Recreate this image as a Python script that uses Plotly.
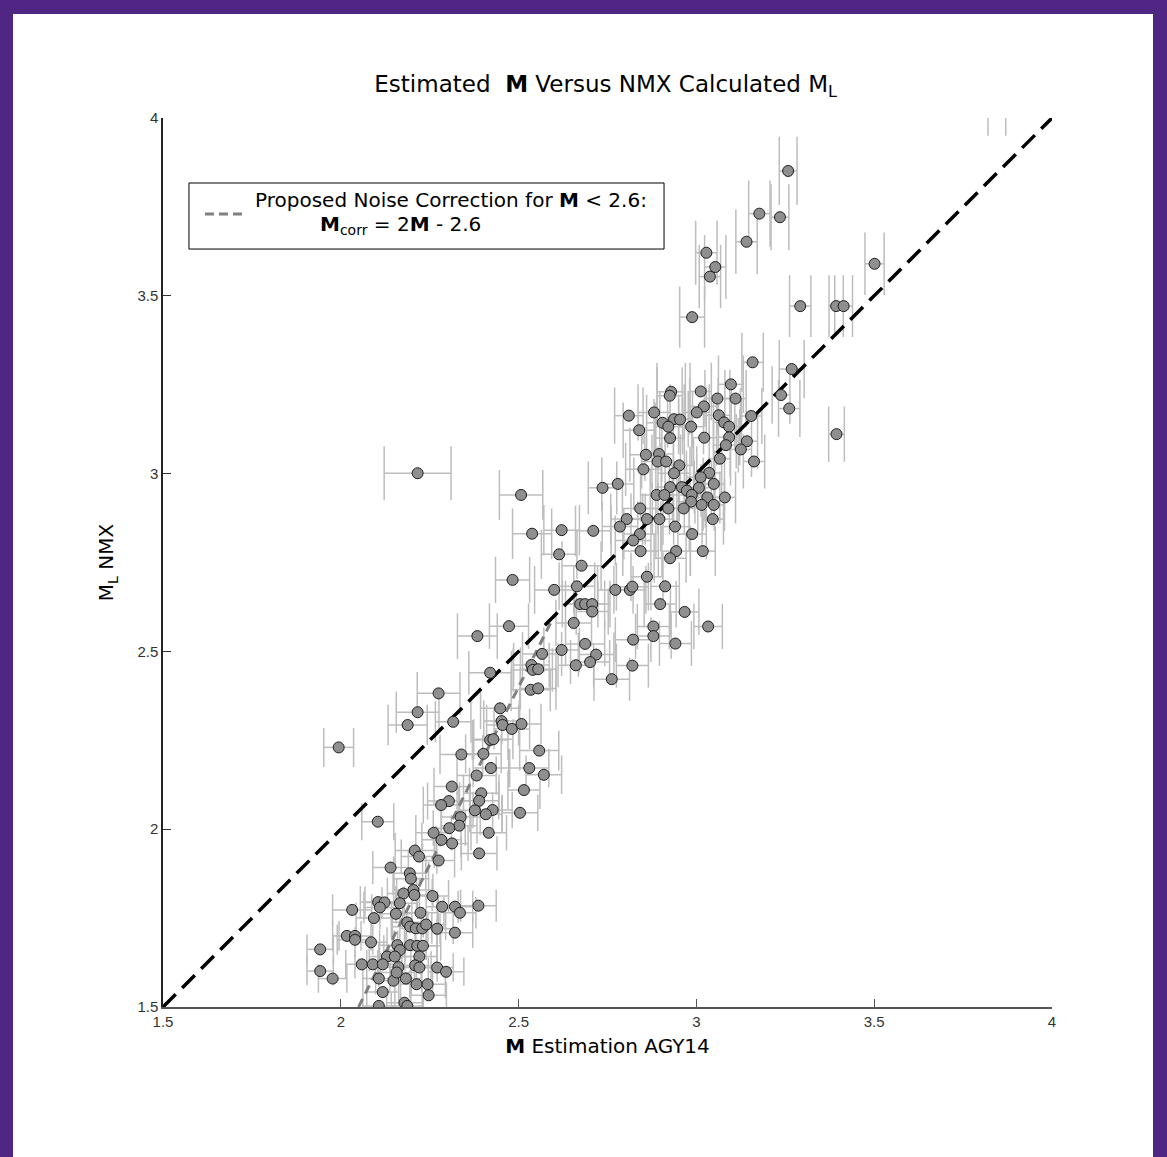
import plotly.graph_objects as go

# ---- data ----
# M estimation (AGY14) values
m_est = [
    # upper group
    3.258, 3.177, 3.235, 3.141, 3.028, 3.053, 3.038, 2.988, 3.292, 3.393,
    3.414, 3.501, 3.158, 3.268, 3.845,
    # main upper cloud
    3.097, 2.929, 2.925, 3.012, 3.059, 3.110, 3.238, 3.261, 3.021, 3.001,
    2.881, 2.810, 3.063, 3.154, 2.937, 2.954, 2.905, 2.921, 2.985, 3.078,
    3.092, 2.839, 3.394, 2.926, 3.022, 3.092, 3.142, 3.083, 3.125, 2.858,
    2.895, 2.891, 2.915, 3.066, 3.162, 2.952, 2.937, 2.851, 3.036, 3.012,
    2.736, 2.779, 2.926, 2.959, 2.973, 3.007, 3.049, 2.888, 2.910, 2.987,
    3.031, 3.080, 2.985, 3.015, 3.049, 2.921, 2.964, 2.842, 2.804, 2.785,
    2.861, 2.896, 2.940, 3.046, 2.710, 2.841, 2.822, 2.988, 2.843, 2.943,
    2.926, 3.018, 2.677, 2.861, 2.772, 2.813, 2.820, 2.912, 2.673, 2.687,
    2.707, 2.707, 2.898, 2.967, 3.033, 2.879, 2.879, 2.822, 2.941, 2.687,
    2.718, 2.701, 2.820, 2.661, 2.762,
    # middle
    2.216, 2.507, 2.538, 2.621, 2.614, 2.483, 2.600, 2.664, 2.655, 2.473,
    2.384, 2.621, 2.566, 2.536, 2.540, 2.555, 2.420, 2.534, 2.555, 2.275,
    # lower cloud
    2.216, 2.188, 2.316, 2.448, 2.452, 2.455, 2.481, 2.508, 1.994, 2.420,
    2.429, 2.339, 2.401, 2.558, 2.422, 2.530, 2.571, 2.382, 2.312, 2.515,
    2.395, 2.389, 2.304, 2.282, 2.427, 2.377, 2.408, 2.504, 2.337, 2.333,
    2.305, 2.104, 2.261, 2.283, 2.416, 2.313, 2.389, 2.208, 2.220, 2.275,
    2.140, 2.194, 2.197, 2.204, 2.176, 2.207, 2.258, 2.105, 2.123, 2.110,
    2.166, 2.032, 2.093, 2.155, 2.224, 2.285, 2.321, 2.335, 2.387, 2.187,
    2.195, 2.211, 2.229, 2.240, 2.271, 2.321, 2.017, 2.040, 2.040, 2.085,
    2.159, 2.195, 2.215, 2.231, 1.942, 2.166, 2.130, 2.152, 2.221, 2.059,
    2.090, 2.118, 2.162, 2.209, 2.221, 2.271, 2.296, 1.942, 1.977, 2.107,
    2.148, 2.183, 2.157, 2.213, 2.244, 2.118, 2.247, 2.107, 2.179, 2.187,
]

# M_L NMX values
ml_nmx = [
    3.851, 3.731, 3.721, 3.652, 3.621, 3.581, 3.554, 3.440, 3.471, 3.471,
    3.471, 3.590, 3.313, 3.294, 4.050,
    3.251, 3.230, 3.219, 3.231, 3.211, 3.211, 3.221, 3.183, 3.189, 3.172,
    3.172, 3.163, 3.164, 3.162, 3.153, 3.152, 3.143, 3.132, 3.132, 3.144,
    3.132, 3.122, 3.111, 3.100, 3.101, 3.102, 3.091, 3.080, 3.068, 3.053,
    3.055, 3.034, 3.034, 3.042, 3.034, 3.023, 3.001, 3.012, 3.002, 2.990,
    2.960, 2.971, 2.962, 2.962, 2.952, 2.960, 2.971, 2.940, 2.940, 2.940,
    2.933, 2.933, 2.921, 2.912, 2.912, 2.902, 2.902, 2.902, 2.872, 2.851,
    2.872, 2.872, 2.851, 2.872, 2.839, 2.830, 2.812, 2.830, 2.782, 2.782,
    2.762, 2.782, 2.741, 2.710, 2.673, 2.673, 2.682, 2.683, 2.633, 2.633,
    2.633, 2.612, 2.633, 2.611, 2.570, 2.570, 2.543, 2.533, 2.522, 2.521,
    2.491, 2.470, 2.460, 2.461, 2.422,
    3.001, 2.940, 2.831, 2.841, 2.773, 2.701, 2.673, 2.683, 2.580, 2.571,
    2.543, 2.504, 2.493, 2.462, 2.448, 2.450, 2.440, 2.392, 2.396, 2.382,
    2.329, 2.293, 2.302, 2.340, 2.304, 2.293, 2.282, 2.296, 2.230, 2.251,
    2.253, 2.210, 2.212, 2.221, 2.172, 2.172, 2.153, 2.151, 2.120, 2.110,
    2.101, 2.080, 2.079, 2.068, 2.054, 2.053, 2.042, 2.046, 2.034, 2.010,
    2.003, 2.021, 1.990, 1.970, 1.990, 1.960, 1.932, 1.940, 1.923, 1.912,
    1.892, 1.876, 1.861, 1.829, 1.819, 1.815, 1.812, 1.795, 1.794, 1.780,
    1.792, 1.773, 1.750, 1.762, 1.765, 1.782, 1.782, 1.765, 1.785, 1.738,
    1.726, 1.721, 1.721, 1.732, 1.720, 1.709, 1.700, 1.700, 1.689, 1.682,
    1.674, 1.674, 1.672, 1.672, 1.662, 1.660, 1.642, 1.642, 1.642, 1.620,
    1.620, 1.620, 1.612, 1.617, 1.611, 1.611, 1.599, 1.601, 1.580, 1.580,
    1.574, 1.580, 1.597, 1.564, 1.564, 1.542, 1.533, 1.503, 1.512, 1.503,
]

# half-width of the horizontal error bar (M uncertainty)
m_err = [
    0.025, 0.030, 0.025, 0.030, 0.030, 0.030, 0.030, 0.035, 0.030, 0.020,
    0.025, 0.027, 0.030, 0.035, 0.025,
    0.035, 0.040, 0.035, 0.030, 0.035, 0.030, 0.025, 0.030, 0.040, 0.035,
    0.045, 0.040, 0.035, 0.030, 0.040, 0.035, 0.045, 0.040, 0.035, 0.030,
    0.035, 0.045, 0.022, 0.040, 0.035, 0.030, 0.030, 0.035, 0.030, 0.045,
    0.040, 0.045, 0.040, 0.030, 0.030, 0.040, 0.045, 0.050, 0.035, 0.040,
    0.040, 0.045, 0.040, 0.035, 0.040, 0.035, 0.030, 0.045, 0.040, 0.035,
    0.035, 0.030, 0.040, 0.035, 0.030, 0.045, 0.040, 0.050, 0.045, 0.050,
    0.045, 0.040, 0.040, 0.030, 0.050, 0.045, 0.050, 0.040, 0.050, 0.040,
    0.045, 0.035, 0.055, 0.045, 0.050, 0.045, 0.045, 0.040, 0.050, 0.055,
    0.050, 0.045, 0.045, 0.040, 0.040, 0.045, 0.050, 0.050, 0.045, 0.055,
    0.050, 0.055, 0.045, 0.050, 0.050,
    0.094, 0.061, 0.055, 0.050, 0.050, 0.048, 0.055, 0.050, 0.050, 0.055,
    0.056, 0.050, 0.055, 0.050, 0.055, 0.050, 0.060, 0.055, 0.050, 0.060,
    0.060, 0.055, 0.050, 0.055, 0.050, 0.045, 0.050, 0.055, 0.042, 0.050,
    0.055, 0.060, 0.050, 0.055, 0.050, 0.055, 0.050, 0.055, 0.050, 0.045,
    0.050, 0.055, 0.060, 0.050, 0.055, 0.050, 0.045, 0.050, 0.055, 0.050,
    0.045, 0.045, 0.050, 0.055, 0.050, 0.045, 0.050, 0.055, 0.050, 0.045,
    0.050, 0.045, 0.050, 0.055, 0.045, 0.050, 0.045, 0.050, 0.055, 0.045,
    0.050, 0.055, 0.050, 0.045, 0.050, 0.045, 0.050, 0.045, 0.050, 0.045,
    0.050, 0.045, 0.050, 0.055, 0.045, 0.050, 0.040, 0.045, 0.050, 0.045,
    0.050, 0.045, 0.055, 0.050, 0.037, 0.045, 0.050, 0.045, 0.050, 0.045,
    0.050, 0.045, 0.050, 0.045, 0.050, 0.045, 0.050, 0.037, 0.040, 0.045,
    0.050, 0.045, 0.050, 0.045, 0.050, 0.045, 0.050, 0.045, 0.050, 0.045,
]

# half-height of the vertical error caps (M_L uncertainty)
ml_err = [
    0.096, 0.093, 0.093, 0.091, 0.090, 0.090, 0.089, 0.086, 0.087, 0.087,
    0.087, 0.088, 0.083, 0.082, 0.100,
    0.081, 0.081, 0.080, 0.081, 0.080, 0.080, 0.081, 0.080, 0.080, 0.079,
    0.079, 0.079, 0.079, 0.079, 0.079, 0.079, 0.079, 0.078, 0.078, 0.079,
    0.078, 0.078, 0.078, 0.078, 0.078, 0.078, 0.077, 0.077, 0.077, 0.076,
    0.076, 0.076, 0.076, 0.076, 0.076, 0.076, 0.075, 0.075, 0.075, 0.075,
    0.074, 0.074, 0.074, 0.074, 0.074, 0.074, 0.074, 0.074, 0.074, 0.074,
    0.073, 0.073, 0.073, 0.073, 0.073, 0.073, 0.073, 0.073, 0.072, 0.071,
    0.072, 0.072, 0.071, 0.072, 0.071, 0.071, 0.070, 0.071, 0.070, 0.070,
    0.069, 0.070, 0.069, 0.068, 0.067, 0.067, 0.067, 0.067, 0.066, 0.066,
    0.066, 0.065, 0.066, 0.065, 0.064, 0.064, 0.064, 0.063, 0.063, 0.063,
    0.062, 0.062, 0.062, 0.062, 0.061,
    0.076, 0.070, 0.071, 0.071, 0.069, 0.065, 0.067, 0.067, 0.065, 0.064,
    0.064, 0.063, 0.062, 0.062, 0.061, 0.061, 0.061, 0.060, 0.060, 0.060,
    0.058, 0.057, 0.058, 0.059, 0.058, 0.057, 0.057, 0.057, 0.055, 0.056,
    0.056, 0.055, 0.055, 0.056, 0.054, 0.054, 0.054, 0.054, 0.053, 0.053,
    0.053, 0.052, 0.052, 0.052, 0.051, 0.051, 0.051, 0.051, 0.051, 0.050,
    0.050, 0.052, 0.050, 0.049, 0.050, 0.049, 0.048, 0.049, 0.048, 0.048,
    0.047, 0.047, 0.047, 0.046, 0.045, 0.045, 0.045, 0.045, 0.045, 0.045,
    0.045, 0.044, 0.044, 0.044, 0.044, 0.045, 0.045, 0.044, 0.045, 0.043,
    0.043, 0.043, 0.043, 0.043, 0.043, 0.043, 0.042, 0.042, 0.042, 0.042,
    0.042, 0.042, 0.042, 0.042, 0.042, 0.042, 0.041, 0.041, 0.041, 0.040,
    0.040, 0.040, 0.040, 0.040, 0.040, 0.040, 0.040, 0.040, 0.040, 0.040,
    0.039, 0.040, 0.040, 0.039, 0.039, 0.039, 0.038, 0.038, 0.038, 0.038,
]

# one-to-one reference line and proposed correction line
diag_x = [1.5, 4.0]
diag_y = [1.5, 4.0]
corr_x = [2.05, 2.6]
corr_y = [1.5, 2.6]

x_ticks = [1.5, 2.0, 2.5, 3.0, 3.5, 4.0]
x_tick_text = ["1.5", "2", "2.5", "3", "3.5", "4"]
y_ticks = [1.5, 2.0, 2.5, 3.0, 3.5, 4.0]
y_tick_text = ["1.5", "2", "2.5", "3", "3.5", "4"]

FONT = "Liberation Sans, Arial, sans-serif"
WIDE = "DejaVu Sans, Liberation Sans, sans-serif"

# ---- build H-shaped error bars from the data ----
ex, ey = [], []
for x, y, dx, dy in zip(m_est, ml_nmx, m_err, ml_err):
    ex += [x - dx, x + dx, None, x - dx, x - dx, None, x + dx, x + dx, None]
    ey += [y, y, None, y - dy, y + dy, None, y - dy, y + dy, None]

fig = go.Figure()
fig.add_trace(go.Scatter(x=ex, y=ey, mode="lines",
                         line=dict(color="#bdbdbd", width=1.5),
                         hoverinfo="skip", showlegend=False))
fig.add_trace(go.Scatter(x=corr_x, y=corr_y, mode="lines",
                         line=dict(color="#808080", width=3, dash="9px,6px"),
                         showlegend=False))
fig.add_trace(go.Scatter(x=diag_x, y=diag_y, mode="lines",
                         line=dict(color="black", width=3.5, dash="18px,9px"),
                         showlegend=False))
fig.add_trace(go.Scatter(x=m_est, y=ml_nmx, mode="markers",
                         marker=dict(size=11, color="#8f8f8f",
                                     line=dict(color="#1e1e1e", width=1)),
                         cliponaxis=True, showlegend=False))

# legend-like box
fig.add_shape(type="rect", xref="paper", yref="paper",
              x0=0.0292, x1=0.5636, y0=0.8526, y1=0.9269,
              line=dict(color="black", width=1), fillcolor="white", layer="above")
fig.add_shape(type="line", xref="paper", yref="paper",
              x0=0.0472, x1=0.0934, y0=0.892, y1=0.892,
              line=dict(color="#808080", width=3, dash="9px,5px"), layer="above")
fig.add_annotation(xref="paper", yref="paper", x=0.1012, y=0.9078,
                   xanchor="left", yanchor="middle", showarrow=False,
                   text="Proposed Noise Correction for <b>M</b> &lt; 2.6:",
                   font=dict(family=WIDE, size=20, color="black"))
fig.add_annotation(xref="paper", yref="paper", x=0.1744, y=0.897,
                   xanchor="left", yanchor="top", showarrow=False,
                   text="<b>M</b><sub>corr</sub> = 2<b>M</b> - 2.6",
                   font=dict(family=WIDE, size=20, color="black"))

# white page inside purple frame
fig.add_shape(type="rect", xref="paper", yref="paper",
              x0=-0.1687, x1=1.1136, y0=-0.2, y1=1.117,
              line=dict(width=0), fillcolor="white", layer="below")

fig.update_layout(
    width=1167, height=1157,
    margin=dict(l=163, r=115, t=118, b=150),
    paper_bgcolor="#4f2683",
    plot_bgcolor="white",
    font=dict(family=FONT, color="black"),
    title=dict(text="Estimated  <b>M</b> Versus NMX Calculated M<sub>L</sub>",
               x=0.5190, xref="container", xanchor="center",
               y=0.9274, yref="container", yanchor="middle",
               font=dict(family=WIDE, size=23, color="black")),
    xaxis=dict(range=[1.5, 4], tickvals=x_ticks, ticktext=x_tick_text,
               ticks="inside", ticklen=8, tickcolor="#555", tickwidth=1,
               showline=True, linecolor="#555", linewidth=1.5, mirror=False,
               showgrid=False, zeroline=False,
               tickfont=dict(family=FONT, size=15, color="#333"),
               title=dict(text="<b>M</b> Estimation AGY14",
                          font=dict(family=WIDE, size=20, color="black"),
                          standoff=10)),
    yaxis=dict(range=[1.5, 4], tickvals=y_ticks, ticktext=y_tick_text,
               ticks="inside", ticklen=8, tickcolor="#333", tickwidth=1,
               showline=True, linecolor="#222", linewidth=1.5, mirror=False,
               showgrid=False, zeroline=False,
               tickfont=dict(family=FONT, size=15, color="#333"),
               title=dict(text="M<sub>L</sub> NMX",
                          font=dict(family=WIDE, size=20, color="black"),
                          standoff=18)),
)

fig.write_html("out.html")
